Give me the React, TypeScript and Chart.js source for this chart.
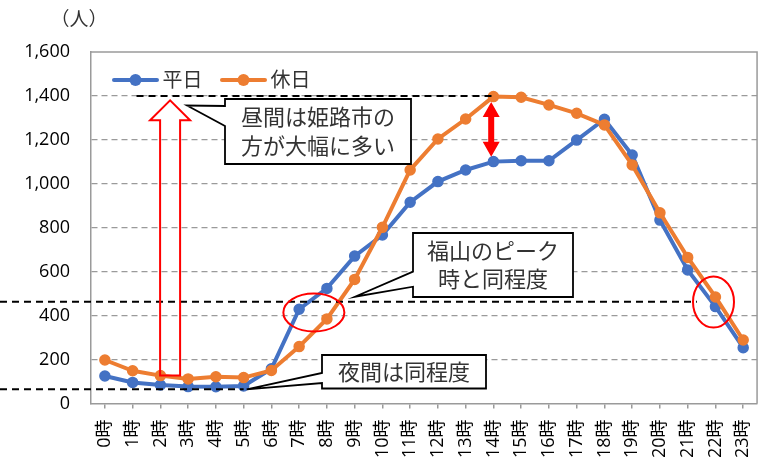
import React, { useEffect, useRef } from "react";
import { Chart, registerables } from "chart.js";

Chart.register(...registerables);

const hours = [
  "0時", "1時", "2時", "3時", "4時", "5時", "6時", "7時", "8時", "9時", "10時", "11時",
  "12時", "13時", "14時", "15時", "16時", "17時", "18時", "19時", "20時", "21時", "22時", "23時",
];
const weekday = [125, 96, 84, 77, 76, 80, 158, 429, 524, 671, 767, 916, 1010, 1063, 1101, 1105, 1105, 1199, 1294, 1131, 835, 608, 441, 254];
const holiday = [198, 149, 127, 112, 122, 118, 150, 259, 385, 565, 802, 1063, 1204, 1295, 1397, 1394, 1359, 1321, 1268, 1086, 868, 665, 485, 289];
const yTicks = [0, 200, 400, 600, 800, 1000, 1200, 1400, 1600];
const seriesNames = ["平日", "休日"];
const yUnit = "（人）";
const note1 = ["昼間は姫路市の", "方が大幅に多い"];
const note2 = ["福山のピーク", "時と同程度"];
const note3 = ["夜間は同程度"];

const BLUE = "#4472C4";
const ORANGE = "#ED7D31";
const GRID = "#9a9a9a";
const RED = "#FF0000";
const FONT = "'Open Sans', 'Noto Sans CJK JP', sans-serif";
const CJK = "'Noto Sans CJK JP', sans-serif";

function callout(
  ctx: CanvasRenderingContext2D,
  L: number, T: number, R: number, B: number,
  tipX: number, tipY: number, w1: number, w2: number,
  lines: string[], lineGap: number
) {
  ctx.save();
  ctx.setLineDash([]);
  ctx.beginPath();
  ctx.moveTo(L, T);
  ctx.lineTo(R, T);
  ctx.lineTo(R, B);
  ctx.lineTo(L, B);
  ctx.lineTo(L, w2);
  ctx.lineTo(tipX, tipY);
  ctx.lineTo(L, w1);
  ctx.closePath();
  ctx.fillStyle = "#ffffff";
  ctx.fill();
  ctx.strokeStyle = "#000";
  ctx.lineWidth = 1.8;
  ctx.lineJoin = "miter";
  ctx.stroke();
  ctx.fillStyle = "#333";
  ctx.font = `22px ${CJK}`;
  ctx.textAlign = "center";
  ctx.textBaseline = "middle";
  const cx = (L + R) / 2;
  const cy = (T + B) / 2;
  const n = lines.length;
  lines.forEach((s, k) => {
    ctx.fillText(s, cx, cy + (k - (n - 1) / 2) * lineGap);
  });
  ctx.restore();
}

const overlayPlugin = {
  id: "overlay",
  beforeDatasetsDraw(chart: any) {
    const { ctx, chartArea: a } = chart;
    ctx.save();
    ctx.strokeStyle = GRID;
    ctx.lineWidth = 1.5;
    ctx.setLineDash([]);
    ctx.beginPath();
    ctx.moveTo(a.left, a.top);
    ctx.lineTo(a.right, a.top);
    ctx.lineTo(a.right, a.bottom);
    ctx.stroke();
    ctx.restore();
  },
  afterDatasetsDraw(chart: any) {
    const { ctx, chartArea: a } = chart;
    const xs = chart.scales.x;
    const ys = chart.scales.y;
    const X = (i: number) => xs.getPixelForValue(i);
    const Y = (v: number) => ys.getPixelForValue(v);
    ctx.save();

    // black dashed guide lines
    ctx.strokeStyle = "#000";
    ctx.lineWidth = 2;
    ctx.setLineDash([7, 5]);
    const hline = (x1: number, x2: number, yy: number) => {
      ctx.beginPath();
      ctx.moveTo(x1, yy);
      ctx.lineTo(x2, yy);
      ctx.stroke();
    };
    hline(X(1.14), X(14), Y(1400));
    hline(0, X(21.33), Y(463));
    hline(0, X(5), Y(65));
    ctx.setLineDash([]);

    // hollow red arrow
    {
      const cx = X(2.35);
      const base = Y(holiday[2]);
      const tip = Y(1380);
      const hb = tip + 20;
      ctx.beginPath();
      ctx.moveTo(cx - 10, base);
      ctx.lineTo(cx - 10, hb);
      ctx.lineTo(cx - 20, hb);
      ctx.lineTo(cx, tip);
      ctx.lineTo(cx + 20, hb);
      ctx.lineTo(cx + 10, hb);
      ctx.lineTo(cx + 10, base);
      ctx.closePath();
      ctx.strokeStyle = RED;
      ctx.lineWidth = 2;
      ctx.lineJoin = "miter";
      ctx.stroke();
    }

    // filled double arrow
    {
      const cx = X(13.92);
      const t = Y(1372);
      const b = Y(1123);
      const hh = 15, hw = 8.5, sw = 3;
      ctx.beginPath();
      ctx.moveTo(cx, t);
      ctx.lineTo(cx + hw, t + hh);
      ctx.lineTo(cx + sw, t + hh);
      ctx.lineTo(cx + sw, b - hh);
      ctx.lineTo(cx + hw, b - hh);
      ctx.lineTo(cx, b);
      ctx.lineTo(cx - hw, b - hh);
      ctx.lineTo(cx - sw, b - hh);
      ctx.lineTo(cx - sw, t + hh);
      ctx.lineTo(cx - hw, t + hh);
      ctx.closePath();
      ctx.fillStyle = RED;
      ctx.fill();
    }

    // red ellipses
    ctx.strokeStyle = RED;
    ctx.lineWidth = 2;
    ctx.beginPath();
    ctx.ellipse(X(7.53), Y(414), 30.5, 19, 0, 0, Math.PI * 2);
    ctx.stroke();
    ctx.beginPath();
    ctx.ellipse(X(21.93), Y(462), 20.5, 25.5, 0, 0, Math.PI * 2);
    ctx.stroke();
    ctx.restore();

    // callouts
    callout(ctx, 225, 99, 411, 164, 187, 105.5, 106, 126, note1, 29);
    callout(ctx, 413, 233, 573, 297, 355, 296.7, 271.7, 286.7, note2, 28);
    callout(ctx, 322, 355, 486, 388.5, 246.7, 389.3, 373, 383, note3, 28);

    // legend
    ctx.save();
    const colors = [BLUE, ORANGE];
    const starts = [a.left + 23, a.left + 131];
    const ly = a.top + 28;
    seriesNames.forEach((name, k) => {
      const x0 = starts[k];
      ctx.strokeStyle = colors[k];
      ctx.lineWidth = 4;
      ctx.lineCap = "round";
      ctx.beginPath();
      ctx.moveTo(x0, ly);
      ctx.lineTo(x0 + 43, ly);
      ctx.stroke();
      ctx.fillStyle = colors[k];
      ctx.beginPath();
      ctx.arc(x0 + 21.5, ly, 6, 0, Math.PI * 2);
      ctx.fill();
      ctx.fillStyle = "#333";
      ctx.font = `20px ${CJK}`;
      ctx.textAlign = "left";
      ctx.textBaseline = "middle";
      ctx.fillText(name, x0 + 48.5, ly - 1);
    });
    ctx.restore();

    // y unit
    ctx.save();
    ctx.fillStyle = "#333";
    ctx.font = `19px ${CJK}`;
    ctx.textAlign = "center";
    ctx.textBaseline = "middle";
    ctx.fillText(yUnit, a.left - 12, 19);
    ctx.restore();
  },
};

export default function App() {
  const canvasRef = useRef<HTMLCanvasElement | null>(null);

  useEffect(() => {
    document.body.style.margin = "0";
    const canvas = canvasRef.current;
    if (!canvas) return;
    const mk = (label: string, data: number[], color: string, order: number) => ({
      label,
      data,
      borderColor: color,
      backgroundColor: color,
      pointBackgroundColor: color,
      pointBorderColor: color,
      borderWidth: 4,
      pointRadius: 5,
      pointBorderWidth: 1.5,
      tension: 0,
      order,
    });
    const chart = new Chart(canvas, {
      type: "line",
      data: {
        labels: hours,
        datasets: [mk(seriesNames[0], weekday, BLUE, 2), mk(seriesNames[1], holiday, ORANGE, 1)],
      },
      options: {
        responsive: false,
        animation: false,
        layout: { padding: { top: 52, right: 10, left: 0, bottom: 0 } },
        plugins: { legend: { display: false }, tooltip: { enabled: false } },
        scales: {
          x: {
            offset: true,
            grid: { drawOnChartArea: false, drawTicks: true, tickLength: 5, color: GRID, offset: false, lineWidth: 1.5 },
            border: { color: GRID, width: 1.5 },
            ticks: {
              autoSkip: false,
              minRotation: 90,
              maxRotation: 90,
              padding: 11,
              color: "#000",
              font: { family: FONT, size: 18 },
            },
            afterFit: (s: any) => {
              s.height = 54.5;
            },
          },
          y: {
            min: 0,
            max: 1600,
            afterBuildTicks: (s: any) => {
              s.ticks = yTicks.map((v) => ({ value: v }));
            },
            ticks: {
              padding: 21,
              color: "#000",
              font: { family: FONT, size: 18 },
              callback: (v: any) => Number(v).toLocaleString("en-US"),
            },
            grid: {
              drawTicks: false,
              lineWidth: 1.3,
              color: (c: any) =>
                c.tick && (c.tick.value === 0 || c.tick.value === 1600) ? "rgba(0,0,0,0)" : GRID,
            },
            border: { display: true, color: GRID, width: 1.5, dash: [6, 4] },
            afterFit: (s: any) => {
              s.width = 91;
            },
          },
        },
      },
      plugins: [overlayPlugin],
    } as any);
    return () => chart.destroy();
  }, []);

  return (
    <div style={{ width: 776, height: 458, background: "#fff" }}>
      <canvas ref={canvasRef} width={776} height={458} style={{ display: "block" }} />
    </div>
  );
}
